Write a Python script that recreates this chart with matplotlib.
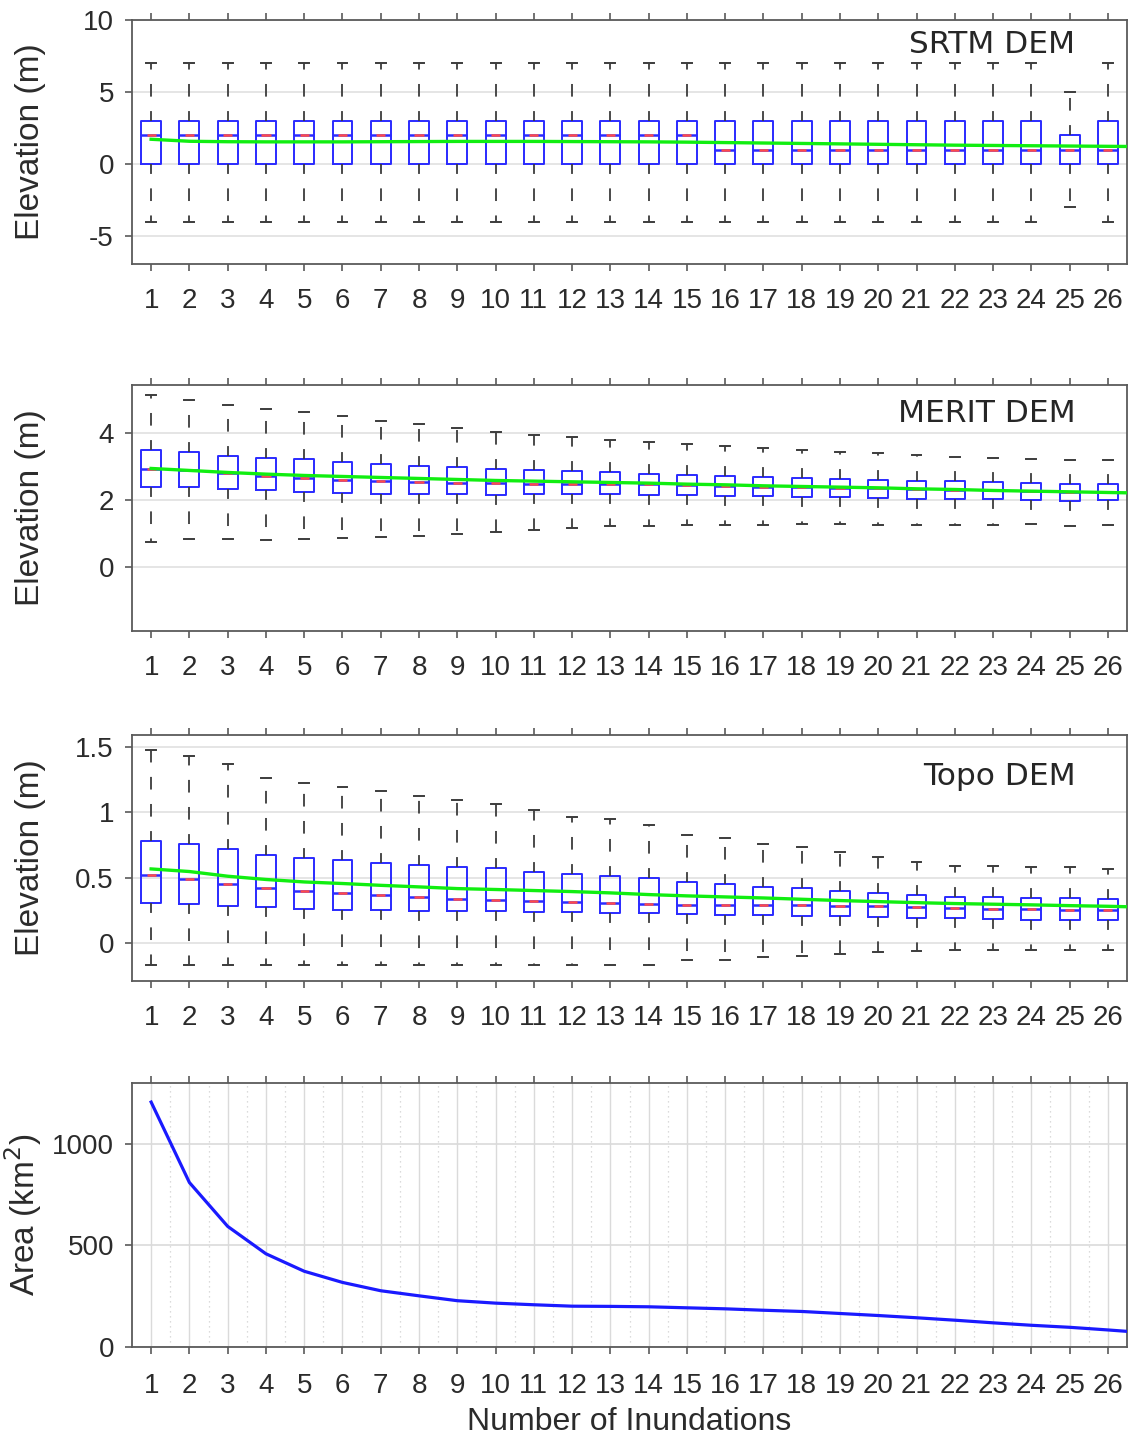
import matplotlib
matplotlib.use('Agg')
import matplotlib.pyplot as plt
import numpy as np

plt.rcParams['font.family'] = ['Liberation Sans', 'DejaVu Sans']

inundations = list(range(1, 27))
tick_labels = [str(i) for i in inundations]

# ---- SRTM DEM ----
srtm_whislo = [-4]*24 + [-3, -4]
srtm_q1 = [0]*26
srtm_med = [2]*15 + [1]*11
srtm_q3 = [3]*24 + [2, 3]
srtm_whishi = [7]*24 + [5, 7]
srtm_mean_x = list(range(1, 28))
srtm_mean = [1.72, 1.58, 1.55, 1.54, 1.54, 1.54, 1.55, 1.56, 1.57, 1.57, 1.57, 1.56, 1.55,
             1.54, 1.52, 1.49, 1.46, 1.43, 1.40, 1.37, 1.34, 1.31, 1.29, 1.27, 1.25, 1.23, 1.21]

# ---- MERIT DEM ----
merit_whislo = [0.76, 0.83, 0.83, 0.82, 0.83, 0.86, 0.91, 0.93, 0.99, 1.05, 1.12, 1.17, 1.22,
                1.24, 1.25, 1.25, 1.26, 1.28, 1.28, 1.26, 1.26, 1.26, 1.26, 1.28, 1.24, 1.25]
merit_q1 = [2.39, 2.39, 2.34, 2.29, 2.25, 2.22, 2.19, 2.18, 2.17, 2.16, 2.17, 2.17, 2.19,
            2.16, 2.14, 2.13, 2.11, 2.10, 2.08, 2.07, 2.04, 2.03, 2.02, 2.01, 1.98, 1.99]
merit_med = [2.94, 2.90, 2.80, 2.73, 2.66, 2.60, 2.57, 2.54, 2.51, 2.50, 2.49, 2.47, 2.48,
             2.47, 2.45, 2.43, 2.40, 2.39, 2.37, 2.35, 2.32, 2.30, 2.29, 2.27, 2.25, 2.25]
merit_q3 = [3.50, 3.43, 3.33, 3.27, 3.22, 3.14, 3.09, 3.02, 2.98, 2.94, 2.90, 2.87, 2.84,
            2.79, 2.75, 2.73, 2.70, 2.66, 2.63, 2.60, 2.58, 2.56, 2.55, 2.51, 2.48, 2.47]
merit_whishi = [5.14, 4.99, 4.85, 4.73, 4.63, 4.51, 4.38, 4.28, 4.15, 4.05, 3.95, 3.88, 3.81,
                3.74, 3.67, 3.61, 3.55, 3.50, 3.45, 3.40, 3.35, 3.30, 3.27, 3.22, 3.21, 3.20]
merit_mean_x = list(range(1, 28))
merit_mean = [2.95, 2.89, 2.83, 2.78, 2.74, 2.71, 2.68, 2.65, 2.62, 2.59, 2.57, 2.55, 2.53,
              2.51, 2.48, 2.46, 2.43, 2.41, 2.39, 2.37, 2.34, 2.32, 2.29, 2.27, 2.25, 2.23, 2.21]

# ---- Topo DEM ----
topo_whislo = [-0.172]*14 + [-0.136, -0.136, -0.111, -0.106, -0.090, -0.072, -0.067,
                             -0.057, -0.060, -0.060, -0.060, -0.057]
topo_q1 = [0.308, 0.300, 0.282, 0.274, 0.262, 0.248, 0.248, 0.241, 0.241, 0.241, 0.235, 0.238, 0.231,
           0.225, 0.220, 0.210, 0.210, 0.208, 0.205, 0.200, 0.187, 0.187, 0.179, 0.177, 0.177, 0.177]
topo_med = [0.523, 0.489, 0.448, 0.418, 0.395, 0.382, 0.366, 0.351, 0.335, 0.325, 0.318, 0.310, 0.302,
            0.300, 0.292, 0.290, 0.290, 0.287, 0.282, 0.279, 0.272, 0.266, 0.261, 0.258, 0.254, 0.248]
topo_q3 = [0.779, 0.754, 0.720, 0.672, 0.651, 0.631, 0.612, 0.600, 0.582, 0.572, 0.546, 0.525, 0.515,
           0.497, 0.462, 0.448, 0.428, 0.420, 0.400, 0.382, 0.364, 0.351, 0.351, 0.343, 0.341, 0.335]
topo_whishi = [1.477, 1.433, 1.372, 1.262, 1.228, 1.192, 1.162, 1.128, 1.092, 1.066, 1.015, 0.966, 0.946,
               0.902, 0.825, 0.800, 0.754, 0.731, 0.697, 0.654, 0.623, 0.587, 0.587, 0.582, 0.579, 0.569]
topo_mean_x = list(range(1, 28))
topo_mean = [0.566, 0.546, 0.510, 0.485, 0.466, 0.454, 0.440, 0.428, 0.415, 0.408, 0.400, 0.392, 0.382,
             0.369, 0.359, 0.351, 0.343, 0.333, 0.323, 0.315, 0.307, 0.300, 0.295, 0.290, 0.284, 0.279, 0.272]

# ---- Area ----
area_x = list(range(1, 28))
area = [1206, 810, 594, 459, 373, 318, 277, 252, 228, 216, 208, 201, 200, 198,
        193, 188, 181, 175, 165, 155, 144, 132, 119, 107, 97, 84, 70]

W, H = 1128, 1439
fig = plt.figure(figsize=(W/100, H/100), dpi=100)

def fx(px):
    return px / W

def axes_at(top_px, bottom_px):
    left, right = 132, 1127
    return fig.add_axes([fx(left), 1 - bottom_px/H, fx(right-left), (bottom_px-top_px)/H])

BOX_C = '#2a2aff'
WHISK_C = '#3c3c3c'
SPINE_C = '#5a5a5a'
TICK_C = '#2b2b2b'
GRID_C = '#e3e3e3'
TICK_FS = 20
LABEL_FS = 24

def style_axes(ax):
    for s in ax.spines.values():
        s.set_color(SPINE_C)
        s.set_linewidth(1.3)
    ax.set_xlim(0.5, 26.5)
    ax.set_xticks(inundations)
    ax.set_xticklabels(tick_labels)
    ax.tick_params(axis='x', which='major', direction='out', length=5, width=1.2,
                   color=SPINE_C, top=True, bottom=True, labelsize=TICK_FS,
                   labelcolor=TICK_C, pad=12)
    ax.tick_params(axis='y', which='major', direction='out', length=5, width=1.2,
                   color=SPINE_C, right=False, labelsize=TICK_FS, labelcolor=TICK_C, pad=8)
    ax.set_axisbelow(True)

def box_panel(ax, lo, q1, med, q3, hi, mx, mean, ylim, yticks, title, ty):
    stats = []
    for a, b, c, d, e in zip(lo, q1, med, q3, hi):
        stats.append(dict(whislo=a, q1=b, med=c, q3=d, whishi=e, fliers=[]))
    ax.bxp(stats, positions=inundations, widths=0.52, capwidths=0.26,
           showfliers=False, manage_ticks=False,
           boxprops=dict(color=BOX_C, linewidth=1.4),
           medianprops=dict(color=BOX_C, linewidth=1.8),
           whiskerprops=dict(color=WHISK_C, linewidth=1.3, linestyle=(1.5, (7, 8))),
           capprops=dict(color=WHISK_C, linewidth=1.4))
    pos = np.array(inundations, dtype=float)
    ax.hlines(med, pos - 0.12, pos + 0.12, colors='#ff4a4a', linewidth=1.8, zorder=3)
    ax.plot(mx, mean, color='#11ee11', linewidth=2.4, zorder=4, clip_on=True)
    ax.set_ylim(*ylim)
    ax.set_yticks(yticks)
    ax.set_yticklabels(['%g' % v for v in yticks])
    ax.yaxis.grid(True, color=GRID_C, linewidth=1.3)
    style_axes(ax)
    ax.set_ylabel('Elevation (m)', fontsize=LABEL_FS, color=TICK_C)
    ax.yaxis.set_label_coords(-0.086, 0.5)
    ax.text(0.948, ty, title, transform=ax.transAxes, ha='right', va='center',
            fontsize=22.5, color='#262626', family='DejaVu Sans')

ax1 = axes_at(20, 264)
box_panel(ax1, srtm_whislo, srtm_q1, srtm_med, srtm_q3, srtm_whishi,
          srtm_mean_x, srtm_mean, (-6.94, 10), [-5, 0, 5, 10], 'SRTM DEM', 0.90)

ax2 = axes_at(385, 631)
box_panel(ax2, merit_whislo, merit_q1, merit_med, merit_q3, merit_whishi,
          merit_mean_x, merit_mean, (-1.92, 5.45), [0, 2, 4], 'MERIT DEM', 0.886)

ax3 = axes_at(735, 981)
box_panel(ax3, topo_whislo, topo_q1, topo_med, topo_q3, topo_whishi,
          topo_mean_x, topo_mean, (-0.295, 1.595), [0, 0.5, 1, 1.5], 'Topo DEM', 0.833)

ax4 = axes_at(1083, 1347)
ax4.plot(area_x, area, color='#1a1aff', linewidth=2.3, zorder=3)
ax4.set_ylim(0, 1300)
ax4.set_yticks([0, 500, 1000])
ax4.set_yticklabels(['0', '500', '1000'])
style_axes(ax4)
ax4.set_xticks(np.arange(1.5, 26.5, 1.0), minor=True)
ax4.tick_params(axis='x', which='minor', length=0)
ax4.tick_params(axis='x', which='major', pad=13.5)
ax4.xaxis.grid(True, which='major', color='#dadada', linewidth=1.0)
ax4.xaxis.grid(True, which='minor', color='#d0d0d0', linewidth=0.9, linestyle=(0, (1, 3)))
ax4.yaxis.grid(True, which='major', color='#dadada', linewidth=1.2)
ax4.set_ylabel('Area (km$^2$)', fontsize=LABEL_FS, color=TICK_C)
ax4.yaxis.set_label_coords(-0.088, 0.5)
ax4.set_xlabel('Number of Inundations', fontsize=23, color=TICK_C, labelpad=6)

fig.savefig('out.png', dpi=100)
